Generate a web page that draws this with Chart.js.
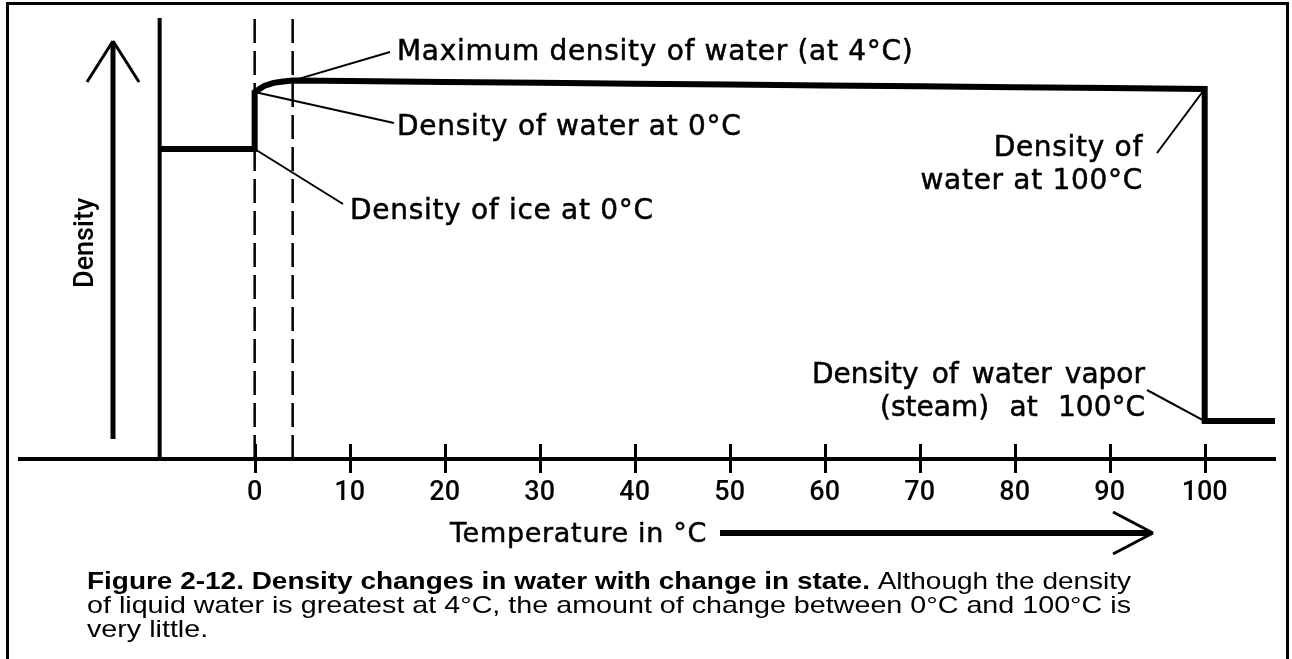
<!DOCTYPE html>
<html>
<head>
<meta charset="utf-8">
<script src="https://cdn.jsdelivr.net/npm/chart.js@4"></script>
<style>
  html, body { margin: 0; padding: 0; background: #fff; }
  #wrap { width: 1292px; height: 659px; }
</style>
</head>
<body>
<div id="wrap"><canvas id="myChart" width="1292" height="659"></canvas></div>
<script>
// values (density is schematic, relative units 0-100)
const iceTemps = [-10, 0];
const iceDensity = [70.3, 70.3];
const waterTemps = [0, 1, 2, 3, 4, 10, 20, 30, 40, 50, 60, 70, 80, 90, 100];
const waterDensity = [83.2, 84.6, 85.3, 85.6, 85.8, 85.7, 85.5, 85.3, 85.1, 84.9, 84.7, 84.5, 84.3, 84.1, 83.9];
const steamTemps = [100, 107.4];
const steamDensity = [8.6, 8.6];
const guideTemps = [0, 4];      // dashed lines
const wallTemp = -10;           // solid vertical line left of the ice
const xTicks = [0, 10, 20, 30, 40, 50, 60, 70, 80, 90, 100];
const xMin = -24.7, xMax = 107.4;

const toPts = (xs, ys) => xs.map((x, i) => ({ x: x, y: ys[i] }));
let curve = toPts(iceTemps, iceDensity)
  .concat(toPts(waterTemps, waterDensity))
  .concat(toPts(steamTemps, steamDensity));

const ANNO_FONT = '28px "DejaVu Sans"';
const notes = [
  { lines: ['Maximum density of water (at 4\u00B0C)'], x: 397, y: [50], align: 'left', from: [4, 85.8], to: [390, 52] },
  { lines: ['Density of water at 0\u00B0C'], x: 397, y: [125], align: 'left', from: [0, 83.2], to: [394, 123] },
  { lines: ['Density of ice at 0\u00B0C'], x: 350, y: [209], align: 'left', from: [0, 70.3], to: [343, 204] },
  { lines: ['Density of', 'water at 100\u00B0C'], x: 1143, y: [146, 179], align: 'right', from: [100, 83.9], to: [1157, 153] },
  { lines: ['Density of water vapor', '(steam) at 100\u00B0C'], x: 1145, y: [373, 406], align: 'right', spreadFrom: [812, 880], from: [100, 8.6], to: [1147, 390] }
];

function line(ctx, x1, y1, x2, y2, w) {
  ctx.lineWidth = w;
  ctx.beginPath();
  ctx.moveTo(x1, y1);
  ctx.lineTo(x2, y2);
  ctx.stroke();
}

function heavyText(ctx, t, x, y) {
  ctx.fillText(t, x, y);
  ctx.strokeText(t, x, y);
}

// words spread evenly between x0 and x1
function spreadText(ctx, text, x0, x1, yBase) {
  let words = text.split(' ');
  let widths = words.map(w => ctx.measureText(w).width);
  let total = widths.reduce((a, b) => a + b, 0);
  let gap = (x1 - x0 - total) / (words.length - 1);
  let x = x0;
  ctx.textAlign = 'left';
  words.forEach((w, i) => {
    heavyText(ctx, w, x, yBase);
    x += widths[i] + gap;
  });
}

const decorPlugin = {
  id: 'decor',
  beforeDraw(chart) {
    const ctx = chart.ctx;
    ctx.save();
    ctx.fillStyle = '#fff';
    ctx.fillRect(0, 0, chart.width, chart.height);
    // page frame
    ctx.strokeStyle = '#000';
    ctx.lineWidth = 3;
    ctx.beginPath();
    ctx.moveTo(7.5, 659);
    ctx.lineTo(7.5, 3.5);
    ctx.lineTo(1287.5, 3.5);
    ctx.lineTo(1287.5, 659);
    ctx.stroke();
    ctx.restore();
  },
  afterDraw(chart) {
    const ctx = chart.ctx;
    const xs = chart.scales.x, ys = chart.scales.y;
    const axisY = ys.getPixelForValue(0);
    ctx.save();
    ctx.strokeStyle = '#000';
    ctx.fillStyle = '#000';
    ctx.lineCap = 'butt';

    // tick marks crossing the axis
    xTicks.forEach(v => {
      const px = Math.round(xs.getPixelForValue(v)) + 0.5;
      line(ctx, px, axisY - 15, px, axisY + 14, 3);
    });

    // density arrow
    line(ctx, 113, 439, 113, 43, 5);
    line(ctx, 113, 41, 87, 82, 3);
    line(ctx, 113, 41, 139, 82, 3);

    // temperature arrow
    line(ctx, 720, 533, 1150, 533, 6);
    line(ctx, 1153, 533, 1113, 512, 3);
    line(ctx, 1153, 533, 1113, 554, 3);

    ctx.textBaseline = 'alphabetic';
    ctx.lineWidth = 0.5;
    ctx.font = '27px "DejaVu Sans"';
    ctx.letterSpacing = '0.7px';
    ctx.textAlign = 'left';
    heavyText(ctx, 'Temperature in \u00B0C', 450, 542);
    ctx.letterSpacing = '0px';

    // y label
    ctx.save();
    ctx.translate(93, 288);
    ctx.rotate(-Math.PI / 2);
    ctx.font = '500 27px Roboto, "Liberation Sans"';
    ctx.fillText('Density', 0, 0);
    ctx.restore();

    // annotations with leader lines
    notes.forEach(n => {
      const fx = xs.getPixelForValue(n.from[0]);
      const fy = ys.getPixelForValue(n.from[1]);
      line(ctx, fx, fy, n.to[0], n.to[1], 2);
      ctx.font = ANNO_FONT;
      ctx.lineWidth = 0.5;
      n.lines.forEach((t, i) => {
        const yb = n.y[i] + 10;
        if (n.spreadFrom) {
          ctx.letterSpacing = '0px';
          spreadText(ctx, t, n.spreadFrom[i], n.x, yb);
        } else {
          ctx.letterSpacing = '0.7px';
          ctx.textAlign = n.align;
          heavyText(ctx, t, n.x, yb);
        }
      });
      ctx.letterSpacing = '0px';
    });

    // caption
    const capL = 87, capW = 1044;
    const bold = 'Figure 2-12. Density changes in water with change in state.';
    const rest = ' Although the density';
    const boldFont = 'bold 24px "Liberation Sans Narrow", "Liberation Sans"';
    const regFont = '24px "Liberation Sans Narrow", "Liberation Sans"';
    ctx.textAlign = 'left';
    ctx.font = boldFont;
    const wb = ctx.measureText(bold).width;
    ctx.font = regFont;
    const wr = ctx.measureText(rest).width;
    let s1 = capW / (wb + wr);
    ctx.save();
    ctx.translate(capL, 589);
    ctx.scale(s1, 1);
    ctx.font = boldFont;
    ctx.fillText(bold, 0, 0);
    ctx.font = regFont;
    ctx.fillText(rest, wb, 0);
    ctx.restore();

    const l2 = 'of liquid water is greatest at 4\u00B0C, the amount of change between 0\u00B0C and 100\u00B0C is';
    ctx.font = regFont;
    let s2 = capW / ctx.measureText(l2).width;
    ctx.save();
    ctx.translate(capL, 613);
    ctx.scale(s2, 1);
    ctx.fillText(l2, 0, 0);
    ctx.restore();
    ctx.save();
    ctx.translate(capL, 637);
    ctx.scale(s2, 1);
    ctx.fillText('very little.', 0, 0);
    ctx.restore();

    ctx.restore();
  }
};

const vLine = (x) => [{ x: x, y: 0 }, { x: x, y: 100 }];

const ctx = document.getElementById('myChart').getContext('2d');
const myChart = new Chart(ctx, {
  type: 'scatter',
  data: {
    datasets: [
      { data: curve, showLine: true, borderColor: '#000', borderWidth: 6, pointRadius: 0, borderJoinStyle: 'miter', tension: 0 },
      { data: vLine(guideTemps[0]), showLine: true, borderColor: '#000', borderWidth: 2.5, borderDash: [24, 8], pointRadius: 0 },
      { data: vLine(guideTemps[1]), showLine: true, borderColor: '#000', borderWidth: 2.5, borderDash: [24, 8], pointRadius: 0 },
      { data: vLine(wallTemp), showLine: true, borderColor: '#000', borderWidth: 4, pointRadius: 0 }
    ]
  },
  options: {
    responsive: false,
    animation: false,
    layout: { padding: { left: 20, right: 17, top: 18, bottom: 0 } },
    plugins: { legend: { display: false }, tooltip: { enabled: false } },
    scales: {
      x: {
        type: 'linear',
        min: xMin,
        max: xMax,
        afterBuildTicks: (scale) => { scale.ticks = xTicks.map(v => ({ value: v })); },
        afterFit: (scale) => { scale.height = 200; },
        grid: { display: false, drawTicks: false },
        border: { display: true, color: '#000', width: 4 },
        ticks: { color: '#000', font: { family: 'Roboto, "Liberation Sans"', size: 27, weight: 500 }, padding: 18, maxRotation: 0, autoSkip: false }
      },
      y: { display: false, min: 0, max: 100 }
    }
  },
  plugins: [decorPlugin]
});
</script>
</body>
</html>
